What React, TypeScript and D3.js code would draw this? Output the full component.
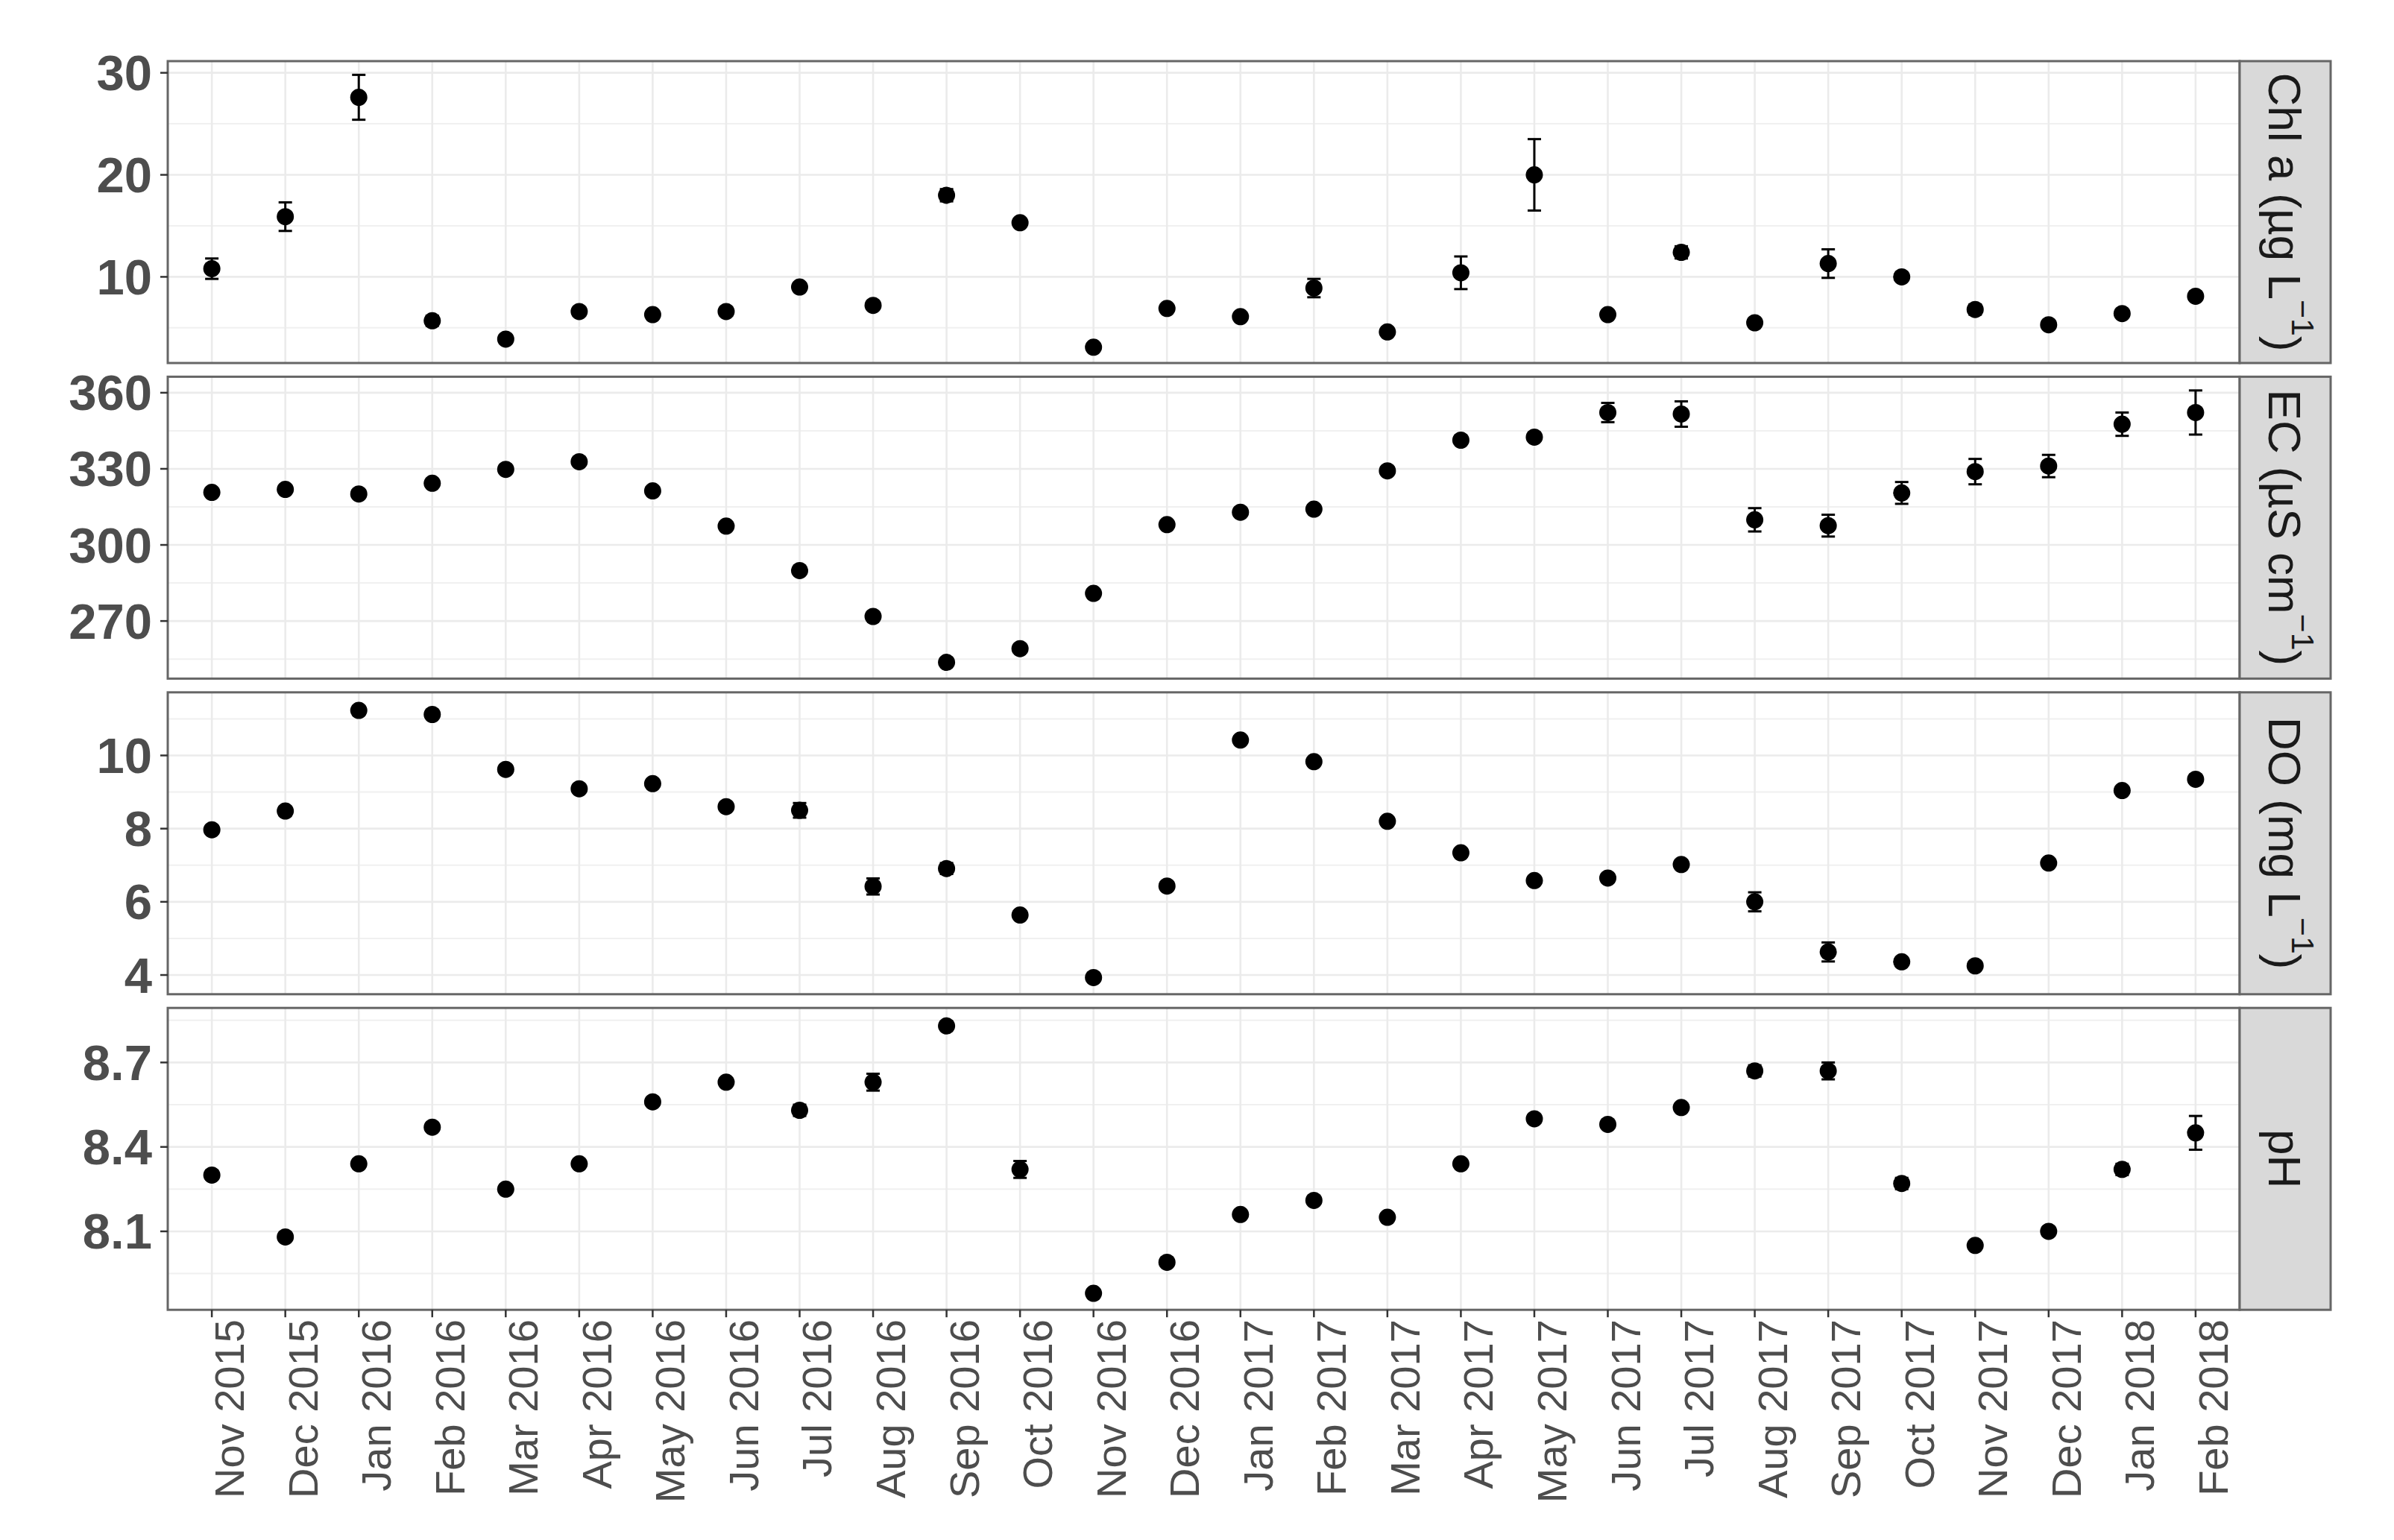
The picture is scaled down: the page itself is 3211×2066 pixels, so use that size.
import React, { useEffect, useRef } from 'react';
import * as d3 from 'd3';

// sampling months (x axis)
const months = ["Nov 2015", "Dec 2015", "Jan 2016", "Feb 2016", "Mar 2016", "Apr 2016", "May 2016", "Jun 2016",
  "Jul 2016", "Aug 2016", "Sep 2016", "Oct 2016", "Nov 2016", "Dec 2016", "Jan 2017", "Feb 2017", "Mar 2017",
  "Apr 2017", "May 2017", "Jun 2017", "Jul 2017", "Aug 2017", "Sep 2017", "Oct 2017", "Nov 2017", "Dec 2017",
  "Jan 2018", "Feb 2018"];

// Chl a (ug/L)
const chlMean = [10.8, 15.9, 27.6, 5.7, 3.9, 6.6, 6.3, 6.6, 9.0, 7.2, 18.0, 15.3, 3.1, 6.9, 6.1, 8.9, 4.6, 10.4,
  20.0, 6.3, 12.4, 5.5, 11.3, 10.0, 6.8, 5.3, 6.4, 8.1];
const chlSe = [1.0, 1.4, 2.2, 0.5, 0.3, 0.3, 0.3, 0.3, 0.4, 0.3, 0.6, 0.4, 0.2, 0.3, 0.3, 0.9, 0.2, 1.6,
  3.5, 0.3, 0.6, 0.3, 1.4, 0.3, 0.5, 0.2, 0.3, 0.3];
const chlTicks = [10, 20, 30];

// EC (uS/cm)
const ecMean = [320.7, 321.9, 320.1, 324.3, 329.8, 332.8, 321.3, 307.4, 289.9, 271.8, 253.7, 259.1, 280.9, 308.0,
  312.9, 314.1, 329.2, 341.3, 342.5, 352.2, 351.6, 309.9, 307.6, 320.5, 328.9, 331.1, 347.6, 352.2];
const ecSe = [1.2, 1.2, 1.2, 1.2, 1.0, 1.2, 1.2, 1.0, 1.0, 1.0, 1.0, 1.0, 1.0, 1.2, 1.2, 1.2, 1.2, 1.2, 1.2,
  3.8, 5.0, 4.6, 4.3, 4.3, 5.0, 4.4, 4.6, 8.7];
const ecTicks = [270, 300, 330, 360];

// DO (mg/L)
const doMean = [7.97, 8.48, 11.23, 11.12, 9.62, 9.09, 9.23, 8.60, 8.50, 6.42, 6.91, 5.64, 3.93, 6.43, 10.42, 9.83,
  8.20, 7.34, 6.58, 6.65, 7.02, 6.00, 4.63, 4.36, 4.25, 7.06, 9.04, 9.35];
const doSe = [0.1, 0.12, 0.12, 0.1, 0.1, 0.1, 0.1, 0.1, 0.2, 0.22, 0.15, 0.1, 0.08, 0.1, 0.1, 0.1, 0.1, 0.1,
  0.1, 0.1, 0.12, 0.26, 0.26, 0.1, 0.1, 0.1, 0.1, 0.1];
const doTicks = [4, 6, 8, 10];

// pH
const phMean = [8.30, 8.08, 8.34, 8.47, 8.25, 8.34, 8.56, 8.63, 8.53, 8.63, 8.83, 8.32, 7.88, 7.99, 8.16, 8.21,
  8.15, 8.34, 8.50, 8.48, 8.54, 8.67, 8.67, 8.27, 8.05, 8.10, 8.32, 8.45];
const phSe = [0.015, 0.01, 0.015, 0.01, 0.01, 0.01, 0.01, 0.01, 0.02, 0.03, 0.015, 0.03, 0.01, 0.01, 0.01, 0.01,
  0.01, 0.01, 0.01, 0.01, 0.01, 0.02, 0.03, 0.02, 0.01, 0.015, 0.02, 0.06];
const phTicks = [8.1, 8.4, 8.7];

const panels = [
  { label: ["Chl a (µg L", "−1", ")"], mean: chlMean, se: chlSe, ticks: chlTicks },
  { label: ["EC (µS cm", "−1", ")"], mean: ecMean, se: ecSe, ticks: ecTicks },
  { label: ["DO (mg L", "−1", ")"], mean: doMean, se: doSe, ticks: doTicks },
  { label: ["pH"], mean: phMean, se: phSe, ticks: phTicks },
];

const FONT = "'Liberation Sans', Arial, Helvetica, sans-serif";

function App() {
  const ref = useRef(null);

  useEffect(() => {
    const width = 3211, height = 2066;
    const left = 225, right = 3004, stripW = 122;
    const top0 = 82, panelH = 405, panelStep = 423.4;

    const svg = d3.select(ref.current);
    svg.selectAll("*").remove();
    svg.attr("width", width).attr("height", height);

    svg.append("rect").attr("width", width).attr("height", height).attr("fill", "#ffffff");

    const x = d3.scalePoint().domain(months).range([left, right]).padding(0.6);

    panels.forEach((p, i) => {
      const top = top0 + i * panelStep;
      const bottom = top + panelH;

      // ggplot style 5% expansion around mean +/- se
      const lo = d3.min(p.mean.map((m, k) => m - p.se[k]));
      const hi = d3.max(p.mean.map((m, k) => m + p.se[k]));
      const pad = (hi - lo) * 0.05;
      const y = d3.scaleLinear().domain([lo - pad, hi + pad]).range([bottom, top]);

      const g = svg.append("g");

      // minor grid
      const step = p.ticks[1] - p.ticks[0];
      const minor = [];
      for (let t = p.ticks[0] - step / 2; t <= p.ticks[p.ticks.length - 1] + step / 2 + 1e-9; t += step) {
        if (t >= y.domain()[0] && t <= y.domain()[1]) minor.push(t);
      }
      g.selectAll(".minor").data(minor).enter().append("line")
        .attr("x1", left).attr("x2", right)
        .attr("y1", d => y(d)).attr("y2", d => y(d))
        .attr("stroke", "#f0f0f0").attr("stroke-width", 2);

      // major grid
      g.selectAll(".hmajor").data(p.ticks).enter().append("line")
        .attr("x1", left).attr("x2", right)
        .attr("y1", d => y(d)).attr("y2", d => y(d))
        .attr("stroke", "#ebebeb").attr("stroke-width", 2.6);
      g.selectAll(".vmajor").data(months).enter().append("line")
        .attr("x1", d => x(d)).attr("x2", d => x(d))
        .attr("y1", top).attr("y2", bottom)
        .attr("stroke", "#ebebeb").attr("stroke-width", 2.6);

      // error bars
      const bars = g.selectAll(".err").data(months).enter().append("g");
      bars.append("line")
        .attr("x1", d => x(d)).attr("x2", d => x(d))
        .attr("y1", (d, k) => y(p.mean[k] - p.se[k])).attr("y2", (d, k) => y(p.mean[k] + p.se[k]))
        .attr("stroke", "#000").attr("stroke-width", 3);
      [-1, 1].forEach(s => {
        bars.append("line")
          .attr("x1", d => x(d) - 9).attr("x2", d => x(d) + 9)
          .attr("y1", (d, k) => y(p.mean[k] + s * p.se[k])).attr("y2", (d, k) => y(p.mean[k] + s * p.se[k]))
          .attr("stroke", "#000").attr("stroke-width", 3);
      });

      // points
      g.selectAll(".pt").data(months).enter().append("circle")
        .attr("cx", d => x(d)).attr("cy", (d, k) => y(p.mean[k]))
        .attr("r", 11.5).attr("fill", "#000");

      // panel border
      g.append("rect")
        .attr("x", left).attr("y", top).attr("width", right - left).attr("height", panelH)
        .attr("fill", "none").attr("stroke", "#666").attr("stroke-width", 3);

      // y ticks + labels
      g.selectAll(".ytick").data(p.ticks).enter().append("line")
        .attr("x1", left - 10).attr("x2", left)
        .attr("y1", d => y(d)).attr("y2", d => y(d))
        .attr("stroke", "#333").attr("stroke-width", 2.5);
      g.selectAll(".ylab").data(p.ticks).enter().append("text")
        .attr("x", left - 21).attr("y", d => y(d))
        .attr("text-anchor", "end").attr("dominant-baseline", "central")
        .attr("font-family", FONT).attr("font-size", 67).attr("font-weight", "bold")
        .attr("fill", "#4d4d4d")
        .text(d => String(d));

      // facet strip
      g.append("rect")
        .attr("x", right).attr("y", top).attr("width", stripW).attr("height", panelH)
        .attr("fill", "#d9d9d9").attr("stroke", "#666").attr("stroke-width", 3);
      const st = g.append("text")
        .attr("transform", `translate(${right + stripW / 2},${top + panelH / 2}) rotate(90)`)
        .attr("text-anchor", "middle").attr("dominant-baseline", "central")
        .attr("font-family", FONT).attr("font-size", 62).attr("fill", "#1a1a1a");
      st.append("tspan").text(p.label[0]);
      if (p.label.length > 1) {
        st.append("tspan").attr("font-size", 43).attr("baseline-shift", "super").text(p.label[1]);
        st.append("tspan").text(p.label[2]);
      }

      // x axis only on the bottom panel
      if (i === panels.length - 1) {
        g.selectAll(".xtick").data(months).enter().append("line")
          .attr("x1", d => x(d)).attr("x2", d => x(d))
          .attr("y1", bottom).attr("y2", bottom + 10)
          .attr("stroke", "#333").attr("stroke-width", 2.5);
        g.selectAll(".xlab").data(months).enter().append("text")
          .attr("transform", d => `translate(${x(d) + 43},${bottom + 13}) rotate(-90)`)
          .attr("text-anchor", "end")
          .attr("font-family", FONT).attr("font-size", 56).attr("fill", "#4d4d4d")
          .text(d => d);
      }
    });
  }, []);

  return (
    <svg ref={ref} style={{ position: 'absolute', left: 0, top: 0, display: 'block' }} />
  );
}

export default App;
